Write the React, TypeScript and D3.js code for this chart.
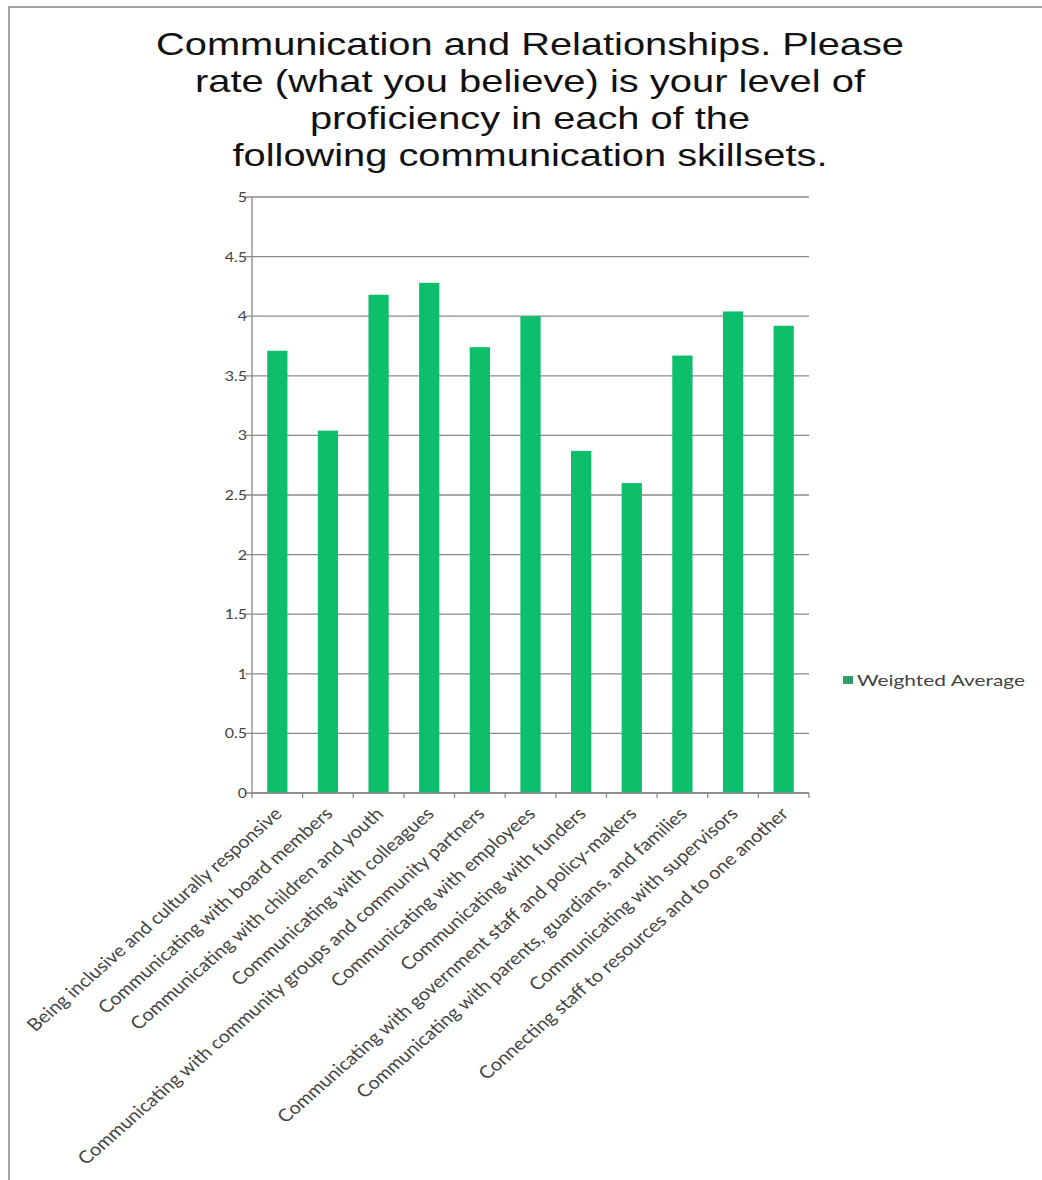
import React from "react";
import * as d3 from "d3";

// Survey results: self-rated proficiency per communication skillset (weighted average, 1–5 scale)
const titleLines = [
  "Communication and Relationships. Please",
  "rate (what you believe) is your level of",
  "proficiency in each of the",
  "following communication skillsets.",
];
const titleWidths = [748, 670, 440, 595];

const categories = [
  "Being inclusive and culturally responsive",
  "Communicating with board members",
  "Communicating with children and youth",
  "Communicating with colleagues",
  "Communicating with community groups and community partners",
  "Communicating with employees",
  "Communicating with funders",
  "Communicating with government staff and policy-makers",
  "Communicating with parents, guardians, and families",
  "Communicating with supervisors",
  "Connecting staff to resources and to one another",
];
const weightedAverage = [3.71, 3.04, 4.18, 4.28, 3.74, 4.0, 2.87, 2.6, 3.67, 4.04, 3.92];
const yTicks = [0, 0.5, 1, 1.5, 2, 2.5, 3, 3.5, 4, 4.5, 5];
const seriesName = "Weighted Average";

const W = 1042;
const H = 1180;
const plot = { left: 252, right: 809, top: 197, bottom: 793 };
const stretch = 1.14; // horizontal widening applied to axis and legend text
const labelFont = "Lato, 'Open Sans', sans-serif";
const barColor = "#0dbf6b";
const gridColor = "#8a8a8a";
const textColor = "#444";

export default function App() {
  const x = d3
    .scaleBand<string>()
    .domain(categories)
    .range([plot.left, plot.right])
    .paddingInner(0.6)
    .paddingOuter(0.3);
  const y = d3.scaleLinear().domain([0, 5]).range([plot.bottom, plot.top]);
  const step = x.step();
  const bandEdges = d3.range(categories.length + 1).map((i) => plot.left + i * step);

  return (
    <svg width={W} height={H} style={{ display: "block", position: "absolute", left: 0, top: 0 }}>
      <rect x={0} y={0} width={W} height={H} fill="#fff" />
      {/* chart frame */}
      <path d={`M9,${H} V7 H${W}`} fill="none" stroke="#a3a3a3" strokeWidth={2} />

      {/* title */}
      {titleLines.map((line, i) => (
        <text
          key={i}
          x={530}
          y={55 + i * 37}
          textAnchor="middle"
          fontFamily="'Liberation Sans', Arial, sans-serif"
          fontSize={32}
          fill="#111"
          textLength={titleWidths[i]}
          lengthAdjust="spacingAndGlyphs"
        >
          {line}
        </text>
      ))}

      {/* gridlines */}
      {yTicks.map((t) => (
        <line
          key={t}
          x1={plot.left - 7}
          x2={plot.right}
          y1={y(t)}
          y2={y(t)}
          stroke={gridColor}
          strokeWidth={1.3}
        />
      ))}

      {/* y tick labels */}
      {yTicks.map((t) => (
        <text
          key={t}
          transform={`translate(${plot.left - 5},${y(t) + 5}) scale(${stretch},1)`}
          textAnchor="end"
          fontFamily={labelFont}
          fontSize={14}
          fill={textColor}
        >
          {d3.format("~g")(t)}
        </text>
      ))}

      {/* bars */}
      {categories.map((c, i) => (
        <rect
          key={c}
          x={x(c)}
          y={y(weightedAverage[i])}
          width={x.bandwidth()}
          height={y(0) - y(weightedAverage[i])}
          fill={barColor}
        />
      ))}

      {/* axes */}
      <line x1={plot.left} x2={plot.left} y1={plot.top} y2={plot.bottom} stroke={gridColor} strokeWidth={1.3} />
      <line x1={plot.left} x2={plot.right} y1={plot.bottom} y2={plot.bottom} stroke={gridColor} strokeWidth={1.3} />
      {bandEdges.map((e, i) => (
        <line key={i} x1={e} x2={e} y1={plot.bottom} y2={plot.bottom + 5} stroke={gridColor} strokeWidth={1.3} />
      ))}

      {/* category labels */}
      {categories.map((c) => {
        const cx = (x(c) as number) + x.bandwidth() / 2;
        return (
          <text
            key={c}
            transform={`translate(${cx + 6},${plot.bottom + 22}) scale(${stretch},1) rotate(-45)`}
            textAnchor="end"
            fontFamily={labelFont}
            fontSize={17.5}
            fill={textColor}
          >
            {c}
          </text>
        );
      })}

      {/* legend */}
      <rect x={843} y={676} width={10} height={8} fill="#2e9e6c" />
      <text
        x={857}
        y={685.5}
        fontFamily={labelFont}
        fontSize={15}
        fill={textColor}
        textLength={168}
        lengthAdjust="spacingAndGlyphs"
      >
        {seriesName}
      </text>
    </svg>
  );
}
